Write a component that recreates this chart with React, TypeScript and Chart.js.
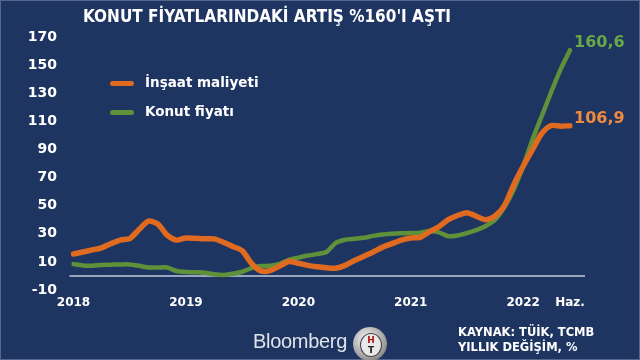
import React, { useEffect, useRef } from "react";
import { Chart, registerables } from "chart.js";
Chart.register(...registerables);

const years = ["2018", "2019", "2020", "2021", "2022"];
const monthNames = ["Oca", "Şub", "Mar", "Nis", "May", "Haz", "Tem", "Ağu", "Eyl", "Eki", "Kas", "Ara"];
const lastMonthLabel = "Haz.";

// Jan 2018 .. Jun 2022
const categories: string[] = [];
years.forEach((y) => monthNames.forEach((m) => categories.push(m + " " + y)));
categories.length = 54;

const insaatMaliyeti = [
  15.6, 17, 18.5, 20, 23, 25.5, 26.6, 33, 39, 37, 29, 25.5,
  27, 26.8, 26.5, 26.4, 24, 21, 18, 9, 3.6, 3.8, 7, 10.3,
  9, 7.5, 6.5, 5.8, 5.5, 7.5, 11, 14, 17, 20.5, 23, 25.5,
  27, 27.5, 31.5, 35, 40, 43, 45, 42.5, 40, 42.7, 50, 65,
  78, 90, 101.5, 107, 106.5, 106.9,
];

const konutFiyati = [
  8.4, 7.5, 7.3, 7.8, 8, 8.2, 8.2, 7.2, 6, 6, 6, 3.5,
  2.8, 2.6, 2.3, 1.2, 0.7, 1.5, 3, 5.5, 7, 7.2, 8.5, 11.5,
  13, 14.5, 15.5, 17, 23.5, 25.8, 26.5, 27.2, 28.5, 29.5, 30, 30.3,
  30.5, 30.8, 31.9, 31, 28.3, 28.8, 30.5, 32.6, 35.5, 40, 49, 61.5,
  78, 97, 114, 131, 147, 160.6,
];

const seriesNames = ["İnşaat maliyeti", "Konut fiyatı"];
const endLabels = ["106,9", "160,6"];
const yTicks = { min: -10, max: 170, step: 20 };

const ORANGE = "#df6a20";
const GREEN = "#5e9139";
const ORANGE_TXT = "#f08a3e";
const GREEN_TXT = "#6aa746";
const BG = "#1e3461";
const FONT = "'DejaVu Sans', Verdana, sans-serif";

const helperPlugin = {
  id: "helper",
  beforeDatasetsDraw(chart: any) {
    const { ctx, chartArea, scales } = chart;
    const y0 = scales.y.getPixelForValue(0);
    ctx.save();
    ctx.strokeStyle = "#c3cbdb";
    ctx.lineWidth = 1.5;
    ctx.beginPath();
    ctx.moveTo(chartArea.left - 4, y0);
    ctx.lineTo(chartArea.right + 15, y0);
    ctx.stroke();
    ctx.restore();
  },
  afterDatasetsDraw(chart: any) {
    const { ctx } = chart;
    ctx.save();
    ctx.font = `bold 16px ${FONT}`;
    ctx.textBaseline = "middle";
    ctx.textAlign = "left";
    chart.data.datasets.forEach((ds: any, i: number) => {
      const meta = chart.getDatasetMeta(i);
      const pt = meta.data[meta.data.length - 1];
      ctx.fillStyle = i === 0 ? ORANGE_TXT : GREEN_TXT;
      ctx.fillText(endLabels[i], pt.x + 4, pt.y - 7);
    });
    ctx.restore();
  },
};

export default function App() {
  const ref = useRef<HTMLCanvasElement>(null);
  useEffect(() => {
    if (!ref.current) return;
    const chart = new Chart(ref.current, {
      type: "line",
      data: {
        labels: categories,
        datasets: [
          {
            label: seriesNames[0],
            data: insaatMaliyeti,
            borderColor: ORANGE,
            borderWidth: 5.5,
            pointRadius: 0,
            tension: 0.25,
            borderCapStyle: "round",
            borderJoinStyle: "round",
          },
          {
            label: seriesNames[1],
            data: konutFiyati,
            borderColor: GREEN,
            borderWidth: 4.5,
            pointRadius: 0,
            tension: 0.25,
            borderCapStyle: "round",
            borderJoinStyle: "round",
          },
        ],
      },
      options: {
        animation: false,
        responsive: false,
        maintainAspectRatio: false,
        layout: { padding: { top: 37, right: 70, left: 0, bottom: 0 } },
        plugins: {
          legend: { display: false },
          title: { display: false },
          tooltip: { enabled: false },
        },
        scales: {
          x: {
            type: "category",
            offset: false,
            grid: { display: false, drawTicks: false },
            border: { display: false },
            ticks: {
              autoSkip: false,
              maxRotation: 0,
              minRotation: 0,
              padding: 6,
              color: "#ffffff",
              font: { family: FONT, size: 12, weight: "bold" },
              callback: (_v: any, idx: number) => {
                if (idx === categories.length - 1) return lastMonthLabel;
                const lab = categories[idx];
                if (lab.startsWith(monthNames[0])) return lab.split(" ")[1];
                return "";
              },
            },
            afterFit(s: any) {
              s.height = 70;
            },
          },
          y: {
            min: yTicks.min,
            max: yTicks.max,
            grid: { display: false, drawTicks: false },
            border: { display: false },
            ticks: {
              stepSize: yTicks.step,
              padding: 16.5,
              color: "#ffffff",
              font: { family: FONT, size: 14, weight: "bold" },
            },
            afterFit(s: any) {
              s.width = 73.5;
            },
          },
        },
      },
      plugins: [helperPlugin],
    } as any);
    return () => chart.destroy();
  }, []);

  const txt: React.CSSProperties = {
    position: "absolute",
    color: "#ffffff",
    fontFamily: FONT,
    fontWeight: "bold",
    whiteSpace: "nowrap",
    lineHeight: 1,
  };

  return (
    <div
      style={{
        position: "absolute",
        left: 0,
        top: 0,
        width: 640,
        height: 360,
        background: BG,
        overflow: "hidden",
        boxShadow: "inset 0 0 0 1px #55678d",
      }}
    >
      <canvas ref={ref} width={640} height={360} style={{ position: "absolute", left: 0, top: 0 }} />
      <div style={{ ...txt, left: 83, top: 8, fontSize: 17, fontFamily: "'DejaVu Sans Condensed', " + FONT }}>
        KONUT FİYATLARINDAKİ ARTIŞ %160'I AŞTI
      </div>
      <div style={{ position: "absolute", left: 110, top: 80.5, width: 24, height: 5.5, borderRadius: 3, background: ORANGE }} />
      <div style={{ ...txt, left: 145, top: 76, fontSize: 13.5 }}>{seriesNames[0]}</div>
      <div style={{ position: "absolute", left: 110, top: 110, width: 24, height: 5, borderRadius: 3, background: GREEN }} />
      <div style={{ ...txt, left: 145, top: 105, fontSize: 13.5 }}>{seriesNames[1]}</div>
      <div
        style={{
          position: "absolute",
          left: 253,
          top: 331,
          color: "#dfe3ea",
          fontFamily: "'Liberation Sans', Arial, sans-serif",
          fontSize: 20,
          lineHeight: 1,
          letterSpacing: -0.3,
        }}
      >
        Bloomberg
      </div>
      <div
        style={{
          position: "absolute",
          left: 353,
          top: 327,
          width: 34,
          height: 34,
          borderRadius: "50%",
          background: "radial-gradient(circle at 40% 35%, #f4f4f4, #9a9a9a 65%, #5a5a5a)",
        }}
      >
        <div
          style={{
            position: "absolute",
            left: 7,
            top: 6,
            width: 20,
            height: 22,
            borderRadius: "50%",
            background: "#e8e8e8",
            border: "1px solid #444",
            fontFamily: FONT,
            fontWeight: "bold",
            fontSize: 9,
            lineHeight: "10px",
            textAlign: "center",
            color: "#b01818",
          }}
        >
          <div style={{ marginTop: 1 }}>H</div>
          <div style={{ color: "#222" }}>T</div>
        </div>
      </div>
      <div style={{ ...txt, left: 458, top: 327, fontSize: 11.5 }}>KAYNAK: TÜİK, TCMB</div>
      <div style={{ ...txt, left: 458, top: 342, fontSize: 11.5 }}>YILLIK DEĞİŞİM, %</div>
    </div>
  );
}
